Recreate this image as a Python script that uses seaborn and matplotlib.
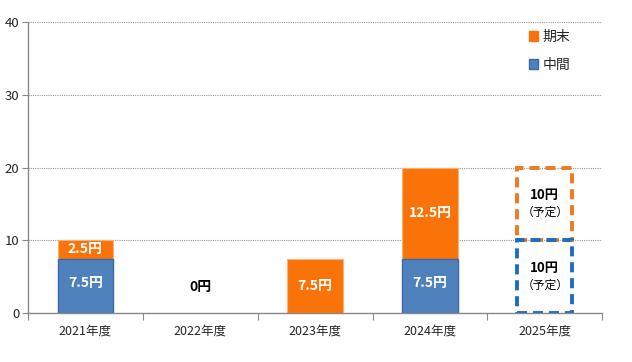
import matplotlib
matplotlib.use("Agg")
import matplotlib.pyplot as plt
import seaborn as sns
import pandas as pd
from matplotlib.patches import Patch

years = ["2021年度", "2022年度", "2023年度", "2024年度", "2025年度"]
interim = [7.5, 0, 0, 7.5, 10]      # 中間
final = [2.5, 0, 7.5, 12.5, 10]     # 期末
planned = [False, False, False, False, True]
yticks = [0, 10, 20, 30, 40]

sns.set_theme(style="white")
plt.rcParams["font.family"] = ["Noto Sans CJK JP", "DejaVu Sans"]

df = pd.DataFrame({"year": years, "interim": interim, "final": final, "planned": planned})
df["total"] = df["interim"] + df["final"]
solid = df[~df["planned"]]
solid_tot = solid[solid["total"] > 0]
solid_int = solid[solid["interim"] > 0]
plan = df[df["planned"]]

BLUE = "#4F81BD"
BLUE_EDGE = "#3B6AA8"
ORANGE = "#FA7309"
BLUE_D = "#1F6BC2"
ORANGE_D = "#EE7A22"

fig = plt.figure(figsize=(6.32, 3.62), dpi=100)
ax = fig.add_axes([0.044, 0.135, 0.909, 0.804])

W = 0.48
sns.barplot(data=solid_tot, x="year", y="total", order=years, color=ORANGE, width=W,
            edgecolor="#F8B27A", linewidth=0.8, saturation=1, ax=ax, errorbar=None)
sns.barplot(data=solid_int, x="year", y="interim", order=years, color=BLUE, width=W,
            edgecolor=BLUE_EDGE, linewidth=1.0, saturation=1, ax=ax, errorbar=None)
# planned (dashed outline)
sns.barplot(data=plan, x="year", y="final", order=years, bottom=plan["interim"].iloc[0],
            width=W, facecolor="none", edgecolor=ORANGE_D, linewidth=2.8,
            linestyle=(0, (2.6, 1.5)), ax=ax, errorbar=None)
sns.barplot(data=plan, x="year", y="interim", order=years,
            width=W, facecolor="none", edgecolor=BLUE_D, linewidth=2.8,
            linestyle=(0, (2.6, 1.5)), ax=ax, errorbar=None)

# labels
for i, r in df.iterrows():
    if r["planned"]:
        for base, h in [(0, r["interim"]), (r["interim"], r["final"])]:
            c = base + h / 2
            ax.text(i, c + 1.2, f"{h:g}円", ha="center", va="center", fontsize=9.5,
                    fontweight="bold", color="black")
            ax.text(i, c - 1.2, "（予定）", ha="center", va="center", fontsize=8.5,
                    color="black")
    elif r["total"] == 0:
        ax.text(i, 3.6, "0円", ha="center", va="center", fontsize=10,
                fontweight="bold", color="black")
    else:
        if r["interim"] > 0:
            ax.text(i, r["interim"] / 2 + 0.4, f"{r['interim']:g}円", ha="center", va="center",
                    fontsize=10, fontweight="bold", color="white")
        if r["final"] > 0:
            ax.text(i, r["interim"] + r["final"] / 2, f"{r['final']:g}円", ha="center",
                    va="center", fontsize=10, fontweight="bold", color="white")

ax.set_ylim(0, 40)
ax.set_xlim(-0.5, 4.5)
ax.set_yticks(yticks)
ax.set_yticklabels([str(t) for t in yticks], fontsize=9.5)
ax.set_xlabel("")
ax.set_ylabel("")
ax.tick_params(axis="x", labelsize=9, length=0, pad=8)
ax.tick_params(axis="y", left=True, length=4, width=0.8, color="#888888", pad=2)

for y in yticks[1:]:
    ax.axhline(y, color="#9a9a9a", linestyle=(0, (1, 1)), linewidth=0.8, zorder=0)

# category boundary ticks on x-axis
ax.set_xticks([-0.5, 0.5, 1.5, 2.5, 3.5, 4.5], minor=True)
ax.tick_params(axis="x", which="minor", bottom=True, length=5, width=0.8, color="#888888")

for s in ["top", "right"]:
    ax.spines[s].set_visible(False)
for s in ["left", "bottom"]:
    ax.spines[s].set_color("#888888")
    ax.spines[s].set_linewidth(1.0)

handles = [Patch(facecolor=ORANGE, edgecolor=ORANGE, label="期末"),
           Patch(facecolor=BLUE, edgecolor=BLUE_EDGE, label="中間")]
ax.legend(handles=handles, loc="upper left", bbox_to_anchor=(0.85, 1.015), frameon=False,
          fontsize=10, handlelength=0.7, handleheight=0.7, handletextpad=0.3,
          labelspacing=1.0)

fig.savefig("out.png", dpi=100)
